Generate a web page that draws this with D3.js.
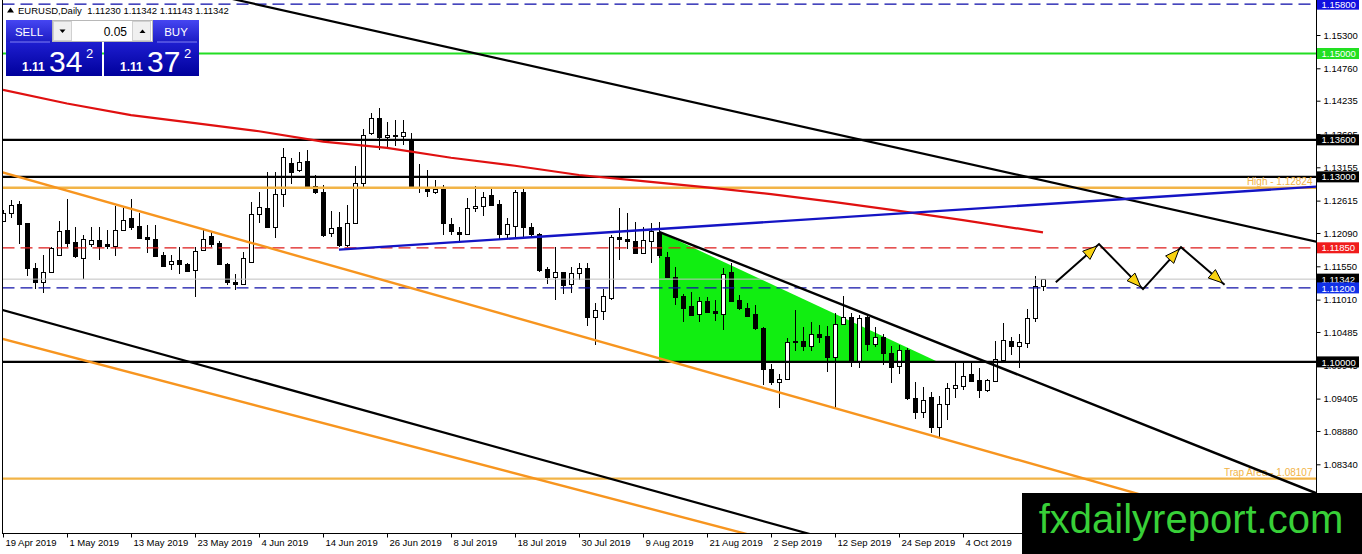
<!DOCTYPE html>
<html>
<head>
<meta charset="utf-8">
<title>EURUSD Daily</title>
<script src="https://cdn.jsdelivr.net/npm/d3@7"></script>
<style>
  html, body { margin: 0; padding: 0; background: #fff; }
  svg { display: block; font-family: "Liberation Sans", Arial, sans-serif; }
</style>
</head>
<body>
<div id="chart"></div>
<script>
/* ============================================================
   EURUSD Daily candles with drawn levels, trendlines and notes
   ============================================================ */

// -- Data: daily bars from 19 Apr 2019 (weekdays only) --------
const startDate = new Date(2019, 3, 19);
const endDate = new Date(2019, 9, 19);

const opens = [
  1.1229, 1.1241, 1.1256, 1.1225, 1.1153, 1.1130, 1.1145, 1.1174, 1.1214, 1.1194,
  1.1169, 1.1191, 1.1198, 1.1191, 1.1188, 1.1214, 1.1233, 1.1220, 1.1203, 1.1200,
  1.1173, 1.1158, 1.1165, 1.1159, 1.1149, 1.1181, 1.1204, 1.1192, 1.1159, 1.1130,
  1.1127, 1.1162, 1.1240, 1.1249, 1.1219, 1.1273, 1.1322, 1.1311, 1.1325, 1.1286,
  1.1275, 1.1209, 1.1218, 1.1190, 1.1225, 1.1290, 1.1371, 1.1396, 1.1364, 1.1367,
  1.1366, 1.1361, 1.1284, 1.1281, 1.1276, 1.1280, 1.1224, 1.1211, 1.1207, 1.1249,
  1.1252, 1.1270, 1.1256, 1.1208, 1.1220, 1.1275, 1.1218, 1.1207, 1.1150, 1.1138,
  1.1145, 1.1126, 1.1144, 1.1153, 1.1073, 1.1083, 1.1103, 1.1203, 1.1199, 1.1196,
  1.1177, 1.1196, 1.1211, 1.1170, 1.1137, 1.1107, 1.1091, 1.1078, 1.1099, 1.1083,
  1.1077, 1.1145, 1.1100, 1.1088, 1.1077, 1.1055, 1.0988, 1.0968, 1.0973, 1.1033,
  1.1034, 1.1026, 1.1046, 1.1042, 1.1008, 1.1062, 1.1072, 1.1002, 1.1073, 1.1029,
  1.1040, 1.1015, 1.0993, 1.1019, 1.0942, 1.0919, 1.0943, 1.0895, 1.0931, 1.0957,
  1.0961, 1.0981, 1.0971, 1.0954, 1.0969, 1.1003, 1.1034, 1.1026, 1.1031, 1.1071,
  1.11230
];
const highs = [
  1.1246, 1.1262, 1.1261, 1.1226, 1.1161, 1.1173, 1.1186, 1.1228, 1.1264, 1.1218,
  1.1206, 1.1219, 1.1218, 1.1214, 1.1252, 1.1250, 1.1264, 1.1241, 1.1222, 1.1222,
  1.1179, 1.1173, 1.1187, 1.1160, 1.1187, 1.1214, 1.1211, 1.1196, 1.1160, 1.1143,
  1.1179, 1.1260, 1.1276, 1.1308, 1.1308, 1.1346, 1.1330, 1.1341, 1.1344, 1.1303,
  1.1287, 1.1245, 1.1243, 1.1254, 1.1318, 1.1377, 1.1404, 1.1411, 1.1389, 1.1392,
  1.1393, 1.1371, 1.1321, 1.1311, 1.1295, 1.1287, 1.1233, 1.1219, 1.1265, 1.1285,
  1.1276, 1.1280, 1.1262, 1.1233, 1.1279, 1.1281, 1.1225, 1.1209, 1.1154, 1.1187,
  1.1146, 1.1154, 1.1161, 1.1161, 1.1095, 1.1118, 1.1206, 1.1249, 1.1241, 1.1227,
  1.1219, 1.1226, 1.1227, 1.1179, 1.1154, 1.1110, 1.1114, 1.1106, 1.1106, 1.1100,
  1.1152, 1.1160, 1.1108, 1.1095, 1.1092, 1.1057, 1.0997, 1.0981, 1.1038, 1.1084,
  1.1057, 1.1065, 1.1060, 1.1058, 1.1079, 1.1107, 1.1079, 1.1076, 1.1076, 1.1057,
  1.1045, 1.1026, 1.1027, 1.1022, 1.0968, 1.0960, 1.0952, 1.0944, 1.0966, 1.1000,
  1.1000, 1.1000, 1.0990, 1.0973, 1.1034, 1.1063, 1.1041, 1.1045, 1.1085, 1.1139,
  1.11342
];
const lows = [
  1.1227, 1.1234, 1.1191, 1.1140, 1.1118, 1.1111, 1.1144, 1.1173, 1.1187, 1.1169,
  1.1134, 1.1187, 1.1165, 1.1183, 1.1172, 1.1212, 1.1214, 1.1200, 1.1177, 1.1171,
  1.1154, 1.1149, 1.1142, 1.1146, 1.1106, 1.1180, 1.1187, 1.1157, 1.1125, 1.1116,
  1.1126, 1.1161, 1.1225, 1.1218, 1.1201, 1.1251, 1.1289, 1.1308, 1.1283, 1.1273,
  1.1203, 1.1203, 1.1187, 1.1187, 1.1224, 1.1283, 1.1368, 1.1344, 1.1349, 1.1350,
  1.1352, 1.1280, 1.1274, 1.1268, 1.1272, 1.1206, 1.1206, 1.1195, 1.1206, 1.1243,
  1.1236, 1.1253, 1.1200, 1.1200, 1.1203, 1.1203, 1.1203, 1.1145, 1.1127, 1.1101,
  1.1110, 1.1112, 1.1132, 1.1058, 1.1027, 1.1068, 1.1101, 1.1165, 1.1183, 1.1175,
  1.1176, 1.1161, 1.1168, 1.1136, 1.1092, 1.1065, 1.1074, 1.1065, 1.1080, 1.1067,
  1.1052, 1.1098, 1.1084, 1.1073, 1.1052, 1.0962, 1.0962, 1.0926, 1.0972, 1.1017,
  1.1017, 1.1017, 1.1031, 1.0983, 1.0925, 1.1061, 1.0992, 1.0990, 1.1017, 1.1024,
  1.0995, 1.0965, 1.0981, 1.0939, 1.0907, 1.0909, 1.0884, 1.0879, 1.0906, 1.0941,
  1.0954, 1.0968, 1.0941, 1.0952, 1.0968, 1.1003, 1.1011, 1.0990, 1.1022, 1.1065,
  1.11143
];
const closes = [
  1.1242, 1.1255, 1.1224, 1.1153, 1.1130, 1.1146, 1.1184, 1.1213, 1.1193, 1.1171,
  1.1199, 1.1198, 1.1188, 1.1188, 1.1214, 1.1230, 1.1219, 1.1201, 1.1200, 1.1172,
  1.1156, 1.1164, 1.1158, 1.1148, 1.1180, 1.1200, 1.1191, 1.1158, 1.1129, 1.1127,
  1.1168, 1.1240, 1.1251, 1.1219, 1.1273, 1.1332, 1.1308, 1.1324, 1.1285, 1.1275,
  1.1206, 1.1217, 1.1190, 1.1225, 1.1290, 1.1368, 1.1396, 1.1364, 1.1368, 1.1368,
  1.1372, 1.1283, 1.1282, 1.1277, 1.1281, 1.1225, 1.1213, 1.1207, 1.1249, 1.1253,
  1.1268, 1.1254, 1.1207, 1.1223, 1.1275, 1.1219, 1.1207, 1.1149, 1.1138, 1.1145,
  1.1125, 1.1144, 1.1153, 1.1073, 1.1084, 1.1107, 1.1202, 1.1199, 1.1196, 1.1176,
  1.1198, 1.1213, 1.1173, 1.1137, 1.1105, 1.1088, 1.1076, 1.1098, 1.1081, 1.1080,
  1.1142, 1.1099, 1.1088, 1.1074, 1.1055, 1.0988, 1.0968, 1.0973, 1.1033, 1.1034,
  1.1026, 1.1046, 1.1041, 1.1008, 1.1062, 1.1072, 1.1000, 1.1071, 1.1029, 1.1040,
  1.1015, 1.0992, 1.1019, 1.0941, 1.0919, 1.0938, 1.0895, 1.0932, 1.0958, 1.0962,
  1.0977, 1.0969, 1.0954, 1.0971, 1.1004, 1.1035, 1.1026, 1.1032, 1.1071, 1.1123,
  1.11342
];

// -- Moving average (red), sampled every 8 bars ---------------
const maIndex = [0, 8, 16, 24, 32, 40, 48, 56, 64, 72, 80, 88, 96, 104, 112, 120, 130];
const maValues = [1.1441, 1.1419, 1.1400, 1.1387, 1.1374, 1.1357, 1.1347, 1.1331, 1.1318,
                  1.1303, 1.1293, 1.1283, 1.1272, 1.1259, 1.1245, 1.1230, 1.1210];

// -- Horizontal levels ----------------------------------------
const levelNames = ["top", "green", "res1", "res2", "high", "red", "bid", "blue", "parity", "area"];
const levelPrices = [1.15800, 1.15000, 1.13600, 1.13000, 1.12824, 1.11850, 1.11342, 1.11200, 1.10000, 1.08107];

// -- Trendlines: [bar index, price] anchor pairs --------------
const trendNames = ["upperBlack", "lowerBlack", "upperOrange", "lowerOrange", "blueRise", "wedgeBlack"];
const trendFrom = [[30.9, 1.1582], [0, 1.1084], [0, 1.1307], [0, 1.1037], [42, 1.1182], [82, 1.1211]];
const trendTo = [[164.1, 1.1195], [100, 1.0724], [122, 1.0859], [90, 1.0731], [164, 1.1284], [107, 1.1082]];

// -- Filled wedge and projected path --------------------------
const wedgeZone = [[82, 1.1211], [82, 1.1000], [116.9, 1.1000]];
const projection = [[131.6, 1.1129], [137, 1.1191], [142.5, 1.1118], [147.25, 1.1186], [152.7, 1.1125]];

// -- Axis ticks -----------------------------------------------
const priceTicks = [1.15300, 1.14760, 1.14235, 1.13695, 1.13155, 1.12615, 1.12090, 1.11550,
                    1.11010, 1.10485, 1.09945, 1.09405, 1.08880, 1.08340];
const dateTickIndex = [0, 8, 16, 24, 32, 40, 48, 56, 64, 72, 80, 88, 96, 104, 112, 120];

// -- Styles ---------------------------------------------------
const LEVEL_STYLE = {
  top:    { color: "#0a0aa8", width: 1.2, dash: "12,6", box: "#1010e0" },
  green:  { color: "#22dd22", width: 2,   dash: null,   box: "#22e022" },
  res1:   { color: "#000",    width: 2.2, dash: null,   box: "#000" },
  res2:   { color: "#000",    width: 2.2, dash: null,   box: "#000" },
  high:   { color: "#f2b447", width: 2.6, dash: null,   text: "High - 1.12824" },
  red:    { color: "#dd1a1a", width: 1.3, dash: "12,6", box: "#f01c1c" },
  bid:    { color: "#c0c0c0", width: 1,   dash: null,   box: "#000" },
  blue:   { color: "#1010a8", width: 1.3, dash: "12,6", box: "#1030e8" },
  parity: { color: "#000",    width: 2.2, dash: null,   box: "#000" },
  area:   { color: "#f2b447", width: 2.2, dash: null,   text: "Trap Area - 1.08107" },
};
const TREND_STYLE = {
  upperBlack:  { color: "#000",    width: 2.2, ray: false },
  lowerBlack:  { color: "#000",    width: 2.2, ray: false },
  upperOrange: { color: "#f7951f", width: 2.4, ray: false },
  lowerOrange: { color: "#f7951f", width: 2.4, ray: false },
  blueRise:    { color: "#1414c4", width: 2.4, ray: true },
  wedgeBlack:  { color: "#000",    width: 2.4, ray: true },
};

const W = 1362, H = 554;
const plot = { left: 2.5, right: 1316.5, top: 0, bottom: 533.5 };

// weekday calendar -> one bar per day
const dates = d3.timeDay.range(startDate, endDate).filter((d) => d.getDay() !== 0 && d.getDay() !== 6);
const bars = opens.map((o, i) => ({ i, date: dates[i], o, h: highs[i], l: lows[i], c: closes[i] }));

// 8px per bar, first bar centred on x = 3
const x = d3.scaleLinear().domain([0, 1]).range([3, 11]);
const y = d3.scaleLinear().domain([1.153, 1.0834]).range([35, 464.3]);

const svg = d3.select("#chart").append("svg").attr("width", W).attr("height", H);
const defs = svg.append("defs");

defs.append("clipPath").attr("id", "plot-clip")
  .append("rect")
  .attr("x", plot.left + 0.5).attr("y", plot.top)
  .attr("width", plot.right - plot.left - 1).attr("height", plot.bottom - plot.top - 0.5);

const g = svg.append("g").attr("clip-path", "url(#plot-clip)");

// -- Green wedge (background object) --------------------------
g.append("path")
  .attr("d", d3.line().x((d) => x(d[0])).y((d) => y(d[1]))(wedgeZone) + "Z")
  .attr("fill", "#11ee11");

// -- Candles --------------------------------------------------
const candles = g.append("g").attr("class", "candles").attr("shape-rendering", "crispEdges");
candles.selectAll("line")
  .data(bars)
  .join("line")
  .attr("x1", (d) => Math.round(x(d.i)) + 0.5)
  .attr("x2", (d) => Math.round(x(d.i)) + 0.5)
  .attr("y1", (d) => y(d.h))
  .attr("y2", (d) => y(d.l))
  .attr("stroke", "#000")
  .attr("stroke-width", 1);

candles.selectAll("rect")
  .data(bars)
  .join("rect")
  .attr("x", (d) => Math.round(x(d.i)) - 1.5)
  .attr("width", 4)
  .attr("y", (d) => Math.round(y(Math.max(d.o, d.c))) + 0.5)
  .attr("height", (d) => Math.max(1, Math.round(y(Math.min(d.o, d.c))) - Math.round(y(Math.max(d.o, d.c)))))
  .attr("fill", (d) => (d.c >= d.o ? "#fff" : "#000"))
  .attr("stroke", "#000")
  .attr("stroke-width", 1);

// -- Horizontal levels ----------------------------------------
const levels = levelNames.map((name, k) => ({ name, price: levelPrices[k], ...LEVEL_STYLE[name] }));

g.append("g").attr("class", "levels")
  .selectAll("line")
  .data(levels)
  .join("line")
  .attr("x1", plot.left).attr("x2", plot.right)
  .attr("y1", (d) => y(d.price)).attr("y2", (d) => y(d.price))
  .attr("stroke", (d) => d.color)
  .attr("stroke-width", (d) => d.width)
  .attr("stroke-dasharray", (d) => d.dash);

g.append("g").attr("class", "level-text")
  .selectAll("text")
  .data(levels.filter((d) => d.text))
  .join("text")
  .attr("x", plot.right - 4)
  .attr("y", (d) => y(d.price) - 3)
  .attr("text-anchor", "end")
  .attr("font-size", 10)
  .attr("fill", "#f2b447")
  .text((d) => d.text);

// -- Moving average -------------------------------------------
g.append("path")
  .attr("d", d3.line().x((d) => x(d[0])).y((d) => y(d[1]))(maIndex.map((idx, k) => [idx, maValues[k]])))
  .attr("fill", "none")
  .attr("stroke", "#e01010")
  .attr("stroke-width", 2.2);

// -- Trendlines (extended to the plot edges) ------------------
const iLeft = x.invert(plot.left), iRight = x.invert(plot.right);
const trends = trendNames.map((name, k) => {
  const [i0, p0] = trendFrom[k], [i1, p1] = trendTo[k];
  const slope = (p1 - p0) / (i1 - i0);
  const st = TREND_STYLE[name];
  const a = st.ray ? i0 : iLeft;
  return { name, ...st, x0: a, p0: p0 + slope * (a - i0), x1: iRight, p1: p0 + slope * (iRight - i0) };
});

g.append("g").attr("class", "trends")
  .selectAll("line")
  .data(trends)
  .join("line")
  .attr("x1", (d) => x(d.x0)).attr("y1", (d) => y(d.p0))
  .attr("x2", (d) => x(d.x1)).attr("y2", (d) => y(d.p1))
  .attr("stroke", (d) => d.color)
  .attr("stroke-width", (d) => d.width);

// -- Projected zig-zag with yellow heads ----------------------
const proj = projection.map((d) => [x(d[0]), y(d[1])]);
g.append("path")
  .attr("d", d3.line()(proj))
  .attr("fill", "none")
  .attr("stroke", "#000")
  .attr("stroke-width", 2);

const heads = d3.pairs(proj).map(([a, b]) => {
  const dx = b[0] - a[0], dy = b[1] - a[1];
  const len = Math.hypot(dx, dy), ux = dx / len, uy = dy / len;
  const tip = [a[0] + dx * 0.95, a[1] + dy * 0.95];
  const base = [tip[0] - ux * 14, tip[1] - uy * 14];
  return [tip, [base[0] - uy * 5.5, base[1] + ux * 5.5], [base[0] + uy * 5.5, base[1] - ux * 5.5]];
});
g.append("g").selectAll("path")
  .data(heads)
  .join("path")
  .attr("d", (d) => d3.line()(d) + "Z")
  .attr("fill", "#f8d210")
  .attr("stroke", "#000")
  .attr("stroke-width", 1);

// -- Frame ----------------------------------------------------
svg.append("path")
  .attr("d", `M${plot.left},0V${plot.bottom}H${plot.right}V0`)
  .attr("fill", "none")
  .attr("stroke", "#000")
  .attr("stroke-width", 1)
  .attr("shape-rendering", "crispEdges");

// -- Price axis -----------------------------------------------
const yAxis = svg.append("g")
  .attr("transform", `translate(${plot.right},0)`)
  .call(d3.axisRight(y).tickValues(priceTicks).tickFormat(d3.format(".5f")).tickSize(4).tickPadding(3));
yAxis.select(".domain").remove();
yAxis.selectAll("text").attr("font-size", 9.5).attr("font-family", "Liberation Sans, Arial, sans-serif").attr("fill", "#000");
yAxis.selectAll("line").attr("stroke", "#000");

// coloured level tags
const tags = svg.append("g").attr("class", "tags")
  .selectAll("g")
  .data(levels.filter((d) => d.box))
  .join("g")
  .attr("transform", (d) => `translate(${plot.right + 0.5},${y(d.price)})`);
tags.append("rect").attr("x", 0).attr("y", -5.5).attr("width", 42).attr("height", 11).attr("fill", (d) => d.box);
tags.append("text")
  .attr("x", 4.5).attr("y", 3.6)
  .attr("font-size", 9.5)
  .attr("fill", "#fff")
  .text((d) => d3.format(".5f")(d.price));

// -- Date axis ------------------------------------------------
const fmtDate = d3.timeFormat("%-d %b %Y");
const xAxis = svg.append("g")
  .attr("transform", `translate(0,${plot.bottom})`)
  .call(d3.axisBottom(x)
    .tickValues(dateTickIndex)
    .tickFormat((i) => fmtDate(dates[i]))
    .tickSize(4).tickPadding(2));
xAxis.select(".domain").remove();
xAxis.selectAll("line").attr("stroke", "#000");
xAxis.selectAll("text")
  .attr("text-anchor", "start")
  .attr("dx", "0.2em")
  .attr("font-size", 9.5)
  .attr("font-family", "Liberation Sans, Arial, sans-serif")
  .attr("fill", "#000");

// -- Header ---------------------------------------------------
svg.append("path").attr("d", "M7,12.5L10.5,7.5L14,12.5Z").attr("fill", "#000");
svg.append("text")
  .attr("x", 18).attr("y", 13.5)
  .attr("font-size", 9.5)
  .attr("fill", "#000")
  .attr("xml:space", "preserve")
  .text("EURUSD,Daily  1.11230 1.11342 1.11143 1.11342");

// -- One-click trading panel ----------------------------------
const btnGrad = defs.append("linearGradient").attr("id", "btn-grad").attr("x1", 0).attr("x2", 0).attr("y1", 0).attr("y2", 1);
btnGrad.append("stop").attr("offset", "0%").attr("stop-color", "#4646f2");
btnGrad.append("stop").attr("offset", "100%").attr("stop-color", "#1c1cc4");
const pxGrad = defs.append("linearGradient").attr("id", "px-grad").attr("x1", 0).attr("x2", 0).attr("y1", 0).attr("y2", 1);
pxGrad.append("stop").attr("offset", "0%").attr("stop-color", "#1e1ed0");
pxGrad.append("stop").attr("offset", "100%").attr("stop-color", "#00009c");

const panel = svg.append("g").attr("class", "trade-panel");
panel.append("rect").attr("x", 6).attr("y", 20).attr("width", 46).attr("height", 22).attr("fill", "url(#btn-grad)");
panel.append("rect").attr("x", 153).attr("y", 20).attr("width", 46).attr("height", 22).attr("fill", "url(#btn-grad)");
panel.append("rect").attr("x", 6).attr("y", 42).attr("width", 96).attr("height", 34).attr("fill", "url(#px-grad)");
panel.append("rect").attr("x", 104).attr("y", 42).attr("width", 95).attr("height", 34).attr("fill", "url(#px-grad)");
panel.append("line").attr("x1", 10).attr("x2", 50).attr("y1", 42).attr("y2", 42).attr("stroke", "#9a9aff").attr("stroke-width", 0.8);
panel.append("line").attr("x1", 157).attr("x2", 197).attr("y1", 42).attr("y2", 42).attr("stroke", "#9a9aff").attr("stroke-width", 0.8);

panel.append("rect").attr("x", 52.5).attr("y", 20.5).attr("width", 100).attr("height", 21)
  .attr("fill", "#fff").attr("stroke", "#b8b8b8");
[[53.5, "M59.5,29.5H65.5L62.5,33Z"], [132.5, "M139.5,33H145.5L142.5,29.5Z"]].forEach(([bx, tri]) => {
  panel.append("rect").attr("x", bx).attr("y", 21.5).attr("width", 18).attr("height", 19)
    .attr("fill", "#f0f0f0").attr("stroke", "#d0d0d0");
  panel.append("path").attr("d", tri).attr("fill", "#000");
});
panel.append("text").attr("x", 127).attr("y", 35.5).attr("text-anchor", "end").attr("font-size", 12).attr("fill", "#000").text("0.05");

panel.append("text").attr("x", 29).attr("y", 35.5).attr("text-anchor", "middle").attr("font-size", 11.5).attr("fill", "#fff").text("SELL");
panel.append("text").attr("x", 176).attr("y", 35.5).attr("text-anchor", "middle").attr("font-size", 11.5).attr("fill", "#fff").text("BUY");

[[6, "34"], [104, "37"]].forEach(([bx, pips]) => {
  panel.append("text").attr("x", bx + 16).attr("y", 70.5).attr("font-size", 12).attr("font-weight", "bold").attr("fill", "#fff").text("1.11");
  panel.append("text").attr("x", bx + 43).attr("y", 71.5).attr("font-size", 30).attr("fill", "#fff").text(pips);
  panel.append("text").attr("x", bx + 80).attr("y", 57.5).attr("font-size", 13).attr("fill", "#fff").text("2");
});

// -- Watermark ------------------------------------------------
svg.append("rect").attr("x", 1022).attr("y", 493).attr("width", W - 1022).attr("height", H - 493).attr("fill", "#000");
svg.append("text")
  .attr("x", 1191).attr("y", 533)
  .attr("text-anchor", "middle")
  .attr("font-size", 40)
  .attr("fill", "#38d038")
  .text("fxdailyreport.com");
</script>
</body>
</html>
